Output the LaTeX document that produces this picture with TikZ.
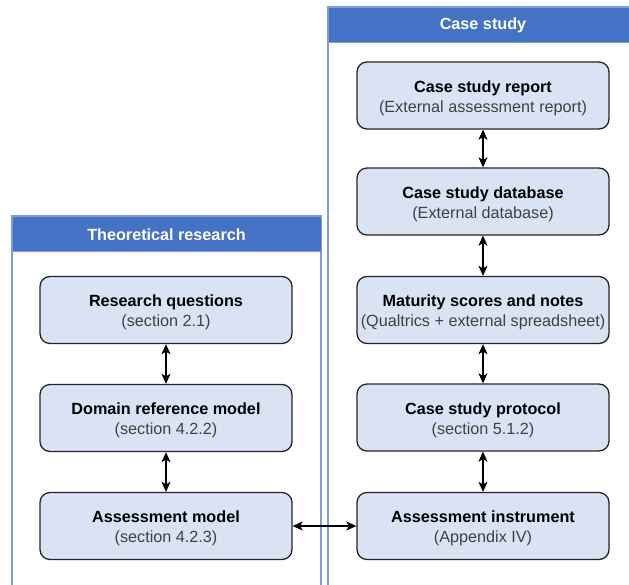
\documentclass[tikz,border=0pt]{standalone}
\usepackage{fontspec}
\setmainfont{Liberation Sans}
\usetikzlibrary{arrows.meta}
\definecolor{hdr}{RGB}{68,114,196}
\definecolor{frameline}{RGB}{126,156,216}
\definecolor{boxfill}{RGB}{218,227,243}
\definecolor{boxline}{RGB}{36,36,36}
\definecolor{subtxt}{RGB}{64,64,64}
\tikzset{
  stage/.style={draw=boxline, fill=boxfill, line width=1.3pt, rounded corners=10pt,
    minimum width=252pt, minimum height=67pt, align=center, inner sep=0pt,
    font=\fontsize{16.2}{20}\selectfont},
  header/.style={fill=hdr, draw=frameline, line width=1pt, anchor=north west,
    minimum height=35pt, inner sep=0pt},
  lanetitle/.style={text=white, font=\fontsize{16.2}{20}\selectfont\bfseries},
  lane/.style={draw=frameline, line width=1.2pt},
  link/.style={draw=black, line width=1.4pt,
    {Stealth[length=10pt,width=9pt,inset=2.5pt]}-{Stealth[length=10pt,width=9pt,inset=2.5pt]}}
}
% title in bold, reference in grey; the strut lowers the pair slightly
\newcommand{\stagetext}[2]{{\rule{0pt}{17pt}\bfseries #1}\\{\color{subtxt}#2}}
\begin{document}
\begin{tikzpicture}[x=1pt,y=-1pt]
  \useasboundingbox (0,0) rectangle (629,584);
  % swimlanes
  \draw[lane] (12,216) rectangle (321,600);
  \draw[lane] (328,7) rectangle (650,600);
  \node[header, minimum width=309pt] (theoryhdr) at (12,216) {};
  \node[header, minimum width=322pt] (casehdr) at (328,7) {};
  \node[lanetitle] (theorytitle) at (166.5,235) {Theoretical research};
  \node[lanetitle] (casetitle) at (483,25) {Case study};
  % theoretical research lane
  \node[stage] (rq)  at (166,310) {\stagetext{Research questions}{(section 2.1)}};
  \node[stage] (drm) at (166,418) {\stagetext{Domain reference model}{(section 4.2.2)}};
  \node[stage] (am)  at (166,526) {\stagetext{Assessment model}{(section 4.2.3)}};
  % case study lane
  \node[stage] (csr) at (483,95.5) {\stagetext{Case study report}{(External assessment report)}};
  \node[stage] (csd) at (483,201.5) {\stagetext{Case study database}{(External database)}};
  \node[stage] (msn) at (483,310) {\stagetext{Maturity scores and notes}{(Qualtrics + external spreadsheet)}};
  \node[stage] (csp) at (483,417.5) {\stagetext{Case study protocol}{(section 5.1.2)}};
  \node[stage] (ai)  at (483,526) {\stagetext{Assessment instrument}{(Appendix IV)}};
  % connectors
  \draw[link] (rq) -- (drm);
  \draw[link] (drm) -- (am);
  \draw[link] (csr) -- (csd);
  \draw[link] (csd) -- (msn);
  \draw[link] (msn) -- (csp);
  \draw[link] (csp) -- (ai);
  \draw[link] (am) -- (ai);
\end{tikzpicture}
\end{document}
